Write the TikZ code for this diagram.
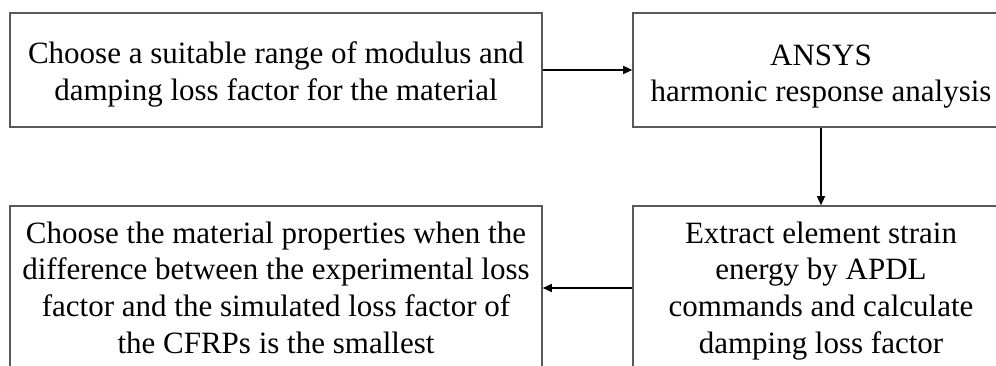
\documentclass[tikz,border=0pt]{standalone}
\usepackage{fontspec}
\setmainfont{Liberation Serif}
\usetikzlibrary{arrows.meta}
\tikzset{
  box/.style={draw=black!65, line width=1.6pt, rectangle, inner sep=0pt},
  txt/.style={align=center, inner sep=0pt, font=\fontsize{31}{36.7}\selectfont},
  conn/.style={draw=black, line width=1.2pt, -{Triangle[length=9pt,width=8pt]}}
}
\begin{document}
\begin{tikzpicture}[x=1pt,y=-1pt]
\useasboundingbox (0,0) rectangle (996,366);
\clip (0,0) rectangle (996,366);
\node[box, minimum width=532pt, minimum height=114pt] (a) at (276,70) {};
\node[box, minimum width=376pt, minimum height=114pt] (b) at (821,70) {};
\node[box, minimum width=532pt, minimum height=164pt] (c) at (276,288) {};
\node[box, minimum width=376pt, minimum height=164pt] (d) at (821,288) {};
\node[txt] (ta) at (276,74.3) {Choose a suitable range of modulus and\\damping loss factor for the material};
\node[txt] (tb) at (821,76.6) {ANSYS\\harmonic response analysis};
\node[txt] (tc) at (276,287.5) {Choose the material properties when the\\difference between the experimental loss\\factor and the simulated loss factor of\\the CFRPs is the smallest};
\node[txt] (td) at (821,290.8) {Extract element strain\\energy by APDL\\commands and calculate\\damping loss factor};
\draw[conn] (a.east) -- (b.west);
\draw[conn] (b.south) -- (d.north);
\draw[conn] (d.west) -- (c.east);
\end{tikzpicture}
\end{document}
